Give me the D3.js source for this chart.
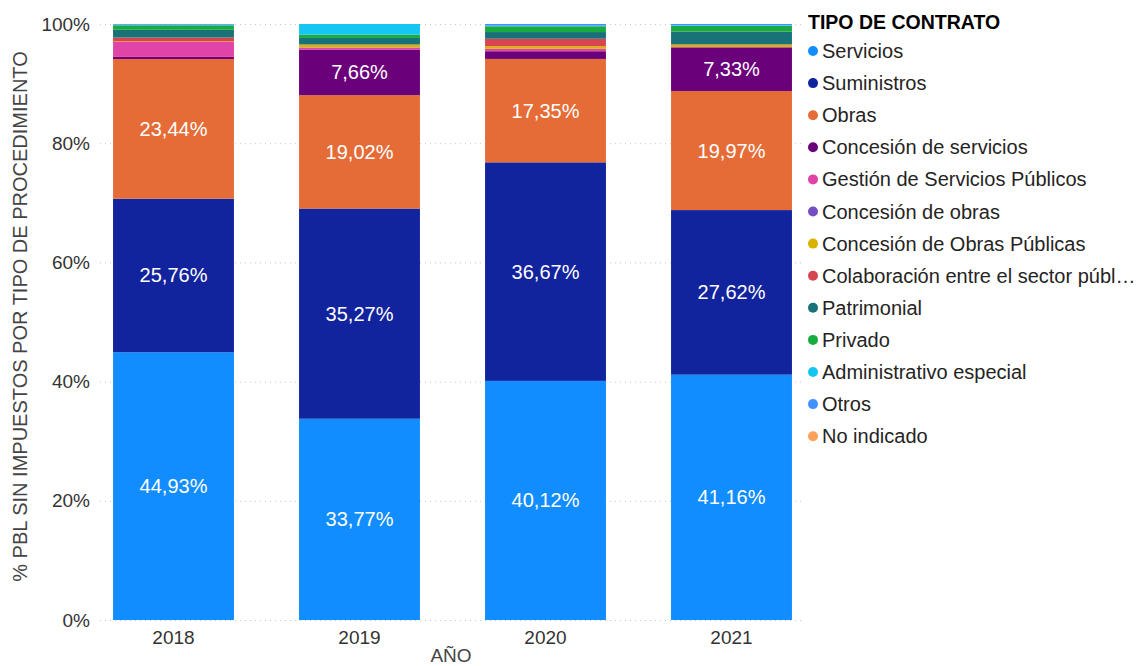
<!DOCTYPE html>
<html>
<head>
<meta charset="utf-8">
<script src="https://cdn.jsdelivr.net/npm/d3@7"></script>
<style>
  body { margin: 0; background: #fff; }
  svg { font-family: "Liberation Sans", Arial, sans-serif; }
</style>
</head>
<body>
<div id="chart"></div>
<script>
// data (percent of PBL per year)
var years = ["2018", "2019", "2020", "2021"];

var tipos = ["Servicios", "Suministros", "Obras", "Concesión de servicios",
  "Gestión de Servicios Públicos", "Concesión de obras", "Concesión de Obras Públicas",
  "Colaboración entre el sector público y privado", "Patrimonial", "Privado",
  "Administrativo especial", "Otros", "No indicado"];

var colores = ["#118DFF", "#12239E", "#E66C37", "#6B007B", "#E044A7", "#744EC2",
  "#D9B300", "#D64550", "#197278", "#1AAB40", "#15C6F4", "#4092FF", "#FFA058"];

var servicios      = [44.93, 33.77, 40.12, 41.16];
var suministros    = [25.76, 35.27, 36.67, 27.62];
var obras          = [23.44, 19.02, 17.35, 19.97];
var concServicios  = [0.35, 7.66, 1.29, 7.33];
var gestionSP      = [2.50, 0.34, 0.40, 0.05];
var concObras      = [0, 0, 0, 0];
var concObrasPub   = [0.10, 0.50, 0.45, 0.40];
var colaboracion   = [0.65, 0, 1.25, 0.05];
var patrimonial    = [1.30, 1.10, 1.12, 2.15];
var privado        = [0.75, 0.56, 0.97, 0.97];
var adminEspecial  = [0.10, 1.78, 0.10, 0.10];
var otros          = [0.12, 0, 0.28, 0.20];
var noIndicado     = [0, 0, 0, 0];

var yTicks = [0, 20, 40, 60, 80, 100];

var series = [servicios, suministros, obras, concServicios, gestionSP, concObras,
  concObrasPub, colaboracion, patrimonial, privado, adminEspecial, otros, noIndicado];

var rows = years.map(function (y, i) {
  var r = { year: y };
  tipos.forEach(function (t, k) { r[t] = series[k][i]; });
  return r;
});

var W = 1142, H = 666;
var plot = { left: 100, right: 802, top: 24, bottom: 620 };

var svg = d3.select("#chart").append("svg")
  .attr("width", W).attr("height", H);

var x = d3.scaleBand()
  .domain(years)
  .range([80.5, 824.5])
  .paddingInner(0.35)
  .paddingOuter(0.175);

var y = d3.scaleLinear()
  .domain([0, 100])
  .range([plot.bottom, plot.top]);

var color = d3.scaleOrdinal().domain(tipos).range(colores);

// gridlines
svg.append("g")
  .selectAll("line")
  .data(yTicks)
  .enter().append("line")
  .attr("x1", plot.left).attr("x2", plot.right)
  .attr("y1", function (d) { return y(d) + 0.5; })
  .attr("y2", function (d) { return y(d) + 0.5; })
  .attr("stroke", "#C8C6C4")
  .attr("stroke-width", 1)
  .attr("stroke-dasharray", "1,4");

// y tick labels
svg.append("g")
  .selectAll("text")
  .data(yTicks)
  .enter().append("text")
  .attr("x", 90)
  .attr("y", function (d) { return y(d); })
  .attr("dy", "0.35em")
  .attr("text-anchor", "end")
  .attr("font-size", 19)
  .attr("fill", "#333")
  .text(function (d) { return d + "%"; });

var stack = d3.stack().keys(tipos)(rows);

var layers = svg.append("g")
  .selectAll("g")
  .data(stack)
  .enter().append("g")
  .attr("fill", function (d) { return color(d.key); });

layers.selectAll("rect")
  .data(function (d) { return d; })
  .enter().append("rect")
  .attr("x", function (d) { return x(d.data.year); })
  .attr("width", x.bandwidth())
  .attr("y", function (d) { return y(d[1]); })
  .attr("height", function (d) { return Math.max(0, y(d[0]) - y(d[1])); });

// data labels for segments big enough
var fmt = function (v) { return v.toFixed(2).replace(".", ",") + "%"; };
layers.selectAll("text")
  .data(function (d) { return d.filter(function (s) { return s[1] - s[0] >= 5; }); })
  .enter().append("text")
  .attr("x", function (d) { return x(d.data.year) + x.bandwidth() / 2; })
  .attr("y", function (d) { return (y(d[0]) + y(d[1])) / 2; })
  .attr("dy", "0.35em")
  .attr("text-anchor", "middle")
  .attr("font-size", 20)
  .attr("fill", "#fff")
  .text(function (d) { return fmt(d[1] - d[0]); });

// x labels
svg.append("g")
  .selectAll("text")
  .data(years)
  .enter().append("text")
  .attr("x", function (d) { return x(d) + x.bandwidth() / 2; })
  .attr("y", 644)
  .attr("text-anchor", "middle")
  .attr("font-size", 19)
  .attr("fill", "#333")
  .text(function (d) { return d; });

svg.append("text")
  .attr("x", (plot.left + plot.right) / 2)
  .attr("y", 662)
  .attr("text-anchor", "middle")
  .attr("font-size", 19)
  .attr("fill", "#444")
  .text("AÑO");

svg.append("text")
  .attr("transform", "translate(27,316.5) rotate(-90)")
  .attr("text-anchor", "middle")
  .attr("font-size", 20)
  .attr("fill", "#444")
  .text("% PBL SIN IMPUESTOS POR TIPO DE PROCEDIMIENTO");

// legend
var legend = svg.append("g");
legend.append("text")
  .attr("x", 808).attr("y", 29)
  .attr("font-size", 19.5)
  .attr("font-weight", "bold")
  .attr("fill", "#000")
  .text("TIPO DE CONTRATO");

var item = legend.selectAll("g.item")
  .data(tipos)
  .enter().append("g")
  .attr("class", "item")
  .attr("transform", function (d, i) { return "translate(813," + (51 + i * 32.1) + ")"; });

item.append("circle")
  .attr("r", 5)
  .attr("fill", function (d) { return color(d); });

// long names get cut like the legend in the original
var maxChars = 33;
item.append("text")
  .attr("x", 9)
  .attr("dy", "0.35em")
  .attr("font-size", 20)
  .attr("fill", "#252423")
  .text(function (d) { return d.length > maxChars ? d.slice(0, maxChars) + "…" : d; });
</script>
</body>
</html>
